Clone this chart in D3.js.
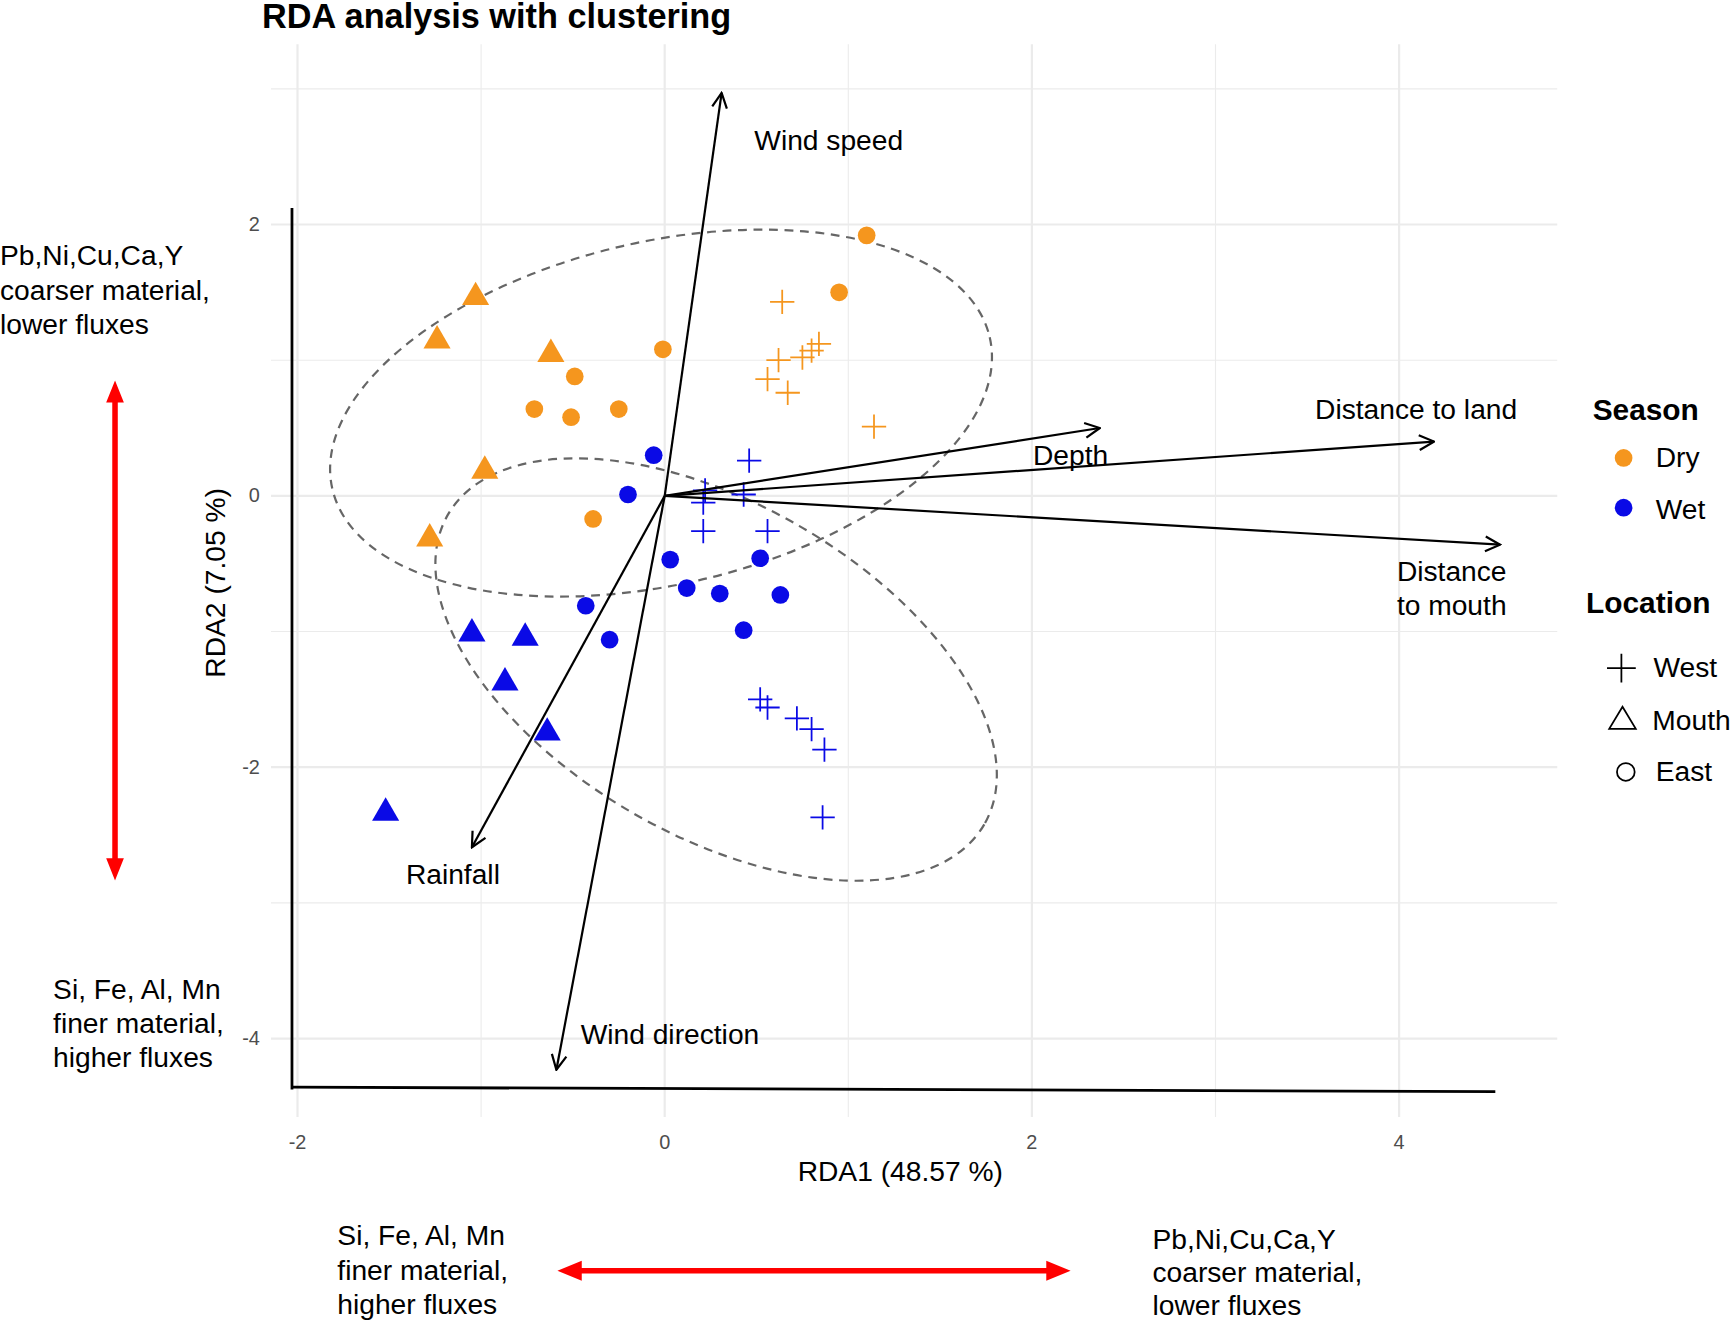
<!DOCTYPE html>
<html>
<head>
<meta charset="UTF-8">
<script src="https://cdn.jsdelivr.net/npm/d3@7"></script>
<style>
body{margin:0;background:#fff}
text{font-family:"Liberation Sans",Arial,sans-serif}
</style>
</head>
<body>
<svg id="cont" width="1734" height="1320"></svg>
<script>
// site scores [RDA1, RDA2]
const dryEast = [[1.10,1.92],[0.95,1.50],[-0.01,1.08],[-0.49,0.88],[-0.71,0.64],[-0.51,0.58],[-0.25,0.64],[-0.39,-0.17]];
const dryMouth = [[-1.03,1.48],[-1.24,1.16],[-0.62,1.06],[-0.98,0.20],[-1.28,-0.30]];
const dryWest = [[0.64,1.43],[0.56,0.86],[0.62,1.00],[0.75,1.02],[0.80,1.07],[0.84,1.12],[0.67,0.76],[1.14,0.51]];
const wetEast = [[-0.06,0.30],[-0.20,0.01],[0.03,-0.47],[0.12,-0.68],[0.30,-0.72],[0.52,-0.46],[0.63,-0.73],[0.43,-0.99],[-0.43,-0.81],[-0.30,-1.06]];
const wetMouth = [[-1.05,-1.00],[-0.76,-1.03],[-0.87,-1.36],[-0.64,-1.73],[-1.52,-2.32]];
const wetWest = [[0.46,0.26],[0.22,0.04],[0.21,-0.05],[0.43,0.01],[0.21,-0.26],[0.56,-0.26],[0.52,-1.50],[0.56,-1.56],[0.72,-1.64],[0.80,-1.72],[0.87,-1.87],[0.86,-2.37]];
// environmental vectors
const vectors = [
  {name:"Wind speed", x:0.31, y:2.97},
  {name:"Depth", x:2.37, y:0.50},
  {name:"Distance to land", x:4.19, y:0.40},
  {name:"Distance to mouth", x:4.55, y:-0.36},
  {name:"Rainfall", x:-1.05, y:-2.59},
  {name:"Wind direction", x:-0.59, y:-4.23}
];
// cluster ellipses: centre, radii (px), rotation
const ellipses = [{cx:-0.02, cy:0.61, rx:305, ry:155, rot:-13},{cx:0.28, cy:-1.28, rx:280, ry:150, rot:30}];
const xTicks = [-2,0,2,4], yTicks = [2,0,-2,-4];
const xMinor = [-1,1,3], yMinor = [3,1,-1,-3];

const orange = "#f5961e", blue = "#0a0ae6";
const svg = d3.select("#cont");
const g = svg.append("g").attr("transform","scale(1.106)");

const x = d3.scaleLinear().domain([-2,4]).range([269,1265]);
const y = d3.scaleLinear().domain([2,-4]).range([203,939]);

// grid
g.selectAll(".gx").data(xMinor.concat(xTicks)).join("line")
  .attr("x1",d=>x(d)).attr("x2",d=>x(d)).attr("y1",40).attr("y2",1010)
  .attr("stroke","#ebebeb").attr("stroke-width",d=>xTicks.includes(d)?2:1);
g.selectAll(".gy").data(yMinor.concat(yTicks)).join("line")
  .attr("y1",d=>y(d)).attr("y2",d=>y(d)).attr("x1",245).attr("x2",1408)
  .attr("stroke","#ebebeb").attr("stroke-width",d=>yTicks.includes(d)?2:1);

// tick labels
g.selectAll(".tx").data(xTicks).join("text").attr("x",d=>x(d)).attr("y",1039)
  .attr("text-anchor","middle").attr("font-size",18).attr("fill","#4d4d4d").text(d=>d);
g.selectAll(".ty").data(yTicks).join("text").attr("x",235).attr("y",d=>y(d)+6)
  .attr("text-anchor","end").attr("font-size",18).attr("fill","#4d4d4d").text(d=>d);

// axis lines
g.append("line").attr("x1",264).attr("x2",264).attr("y1",188).attr("y2",985).attr("stroke","#000").attr("stroke-width",2.5);
g.append("line").attr("x1",264).attr("x2",1352).attr("y1",983).attr("y2",987).attr("stroke","#000").attr("stroke-width",2.5);

// ellipses
g.selectAll(".ell").data(ellipses).join("ellipse")
  .attr("transform",d=>`translate(${x(d.cx)},${y(d.cy)}) rotate(${d.rot})`)
  .attr("rx",d=>d.rx).attr("ry",d=>d.ry)
  .attr("fill","none").attr("stroke","#666").attr("stroke-width",2).attr("stroke-dasharray","8,6");

// points
function circles(data,col){
  g.selectAll(null).data(data).join("circle").attr("cx",d=>x(d[0])).attr("cy",d=>y(d[1]))
    .attr("r",8).attr("fill",col);
}
function triangles(data,col){
  g.selectAll(null).data(data).join("path")
    .attr("d",d3.symbol(d3.symbolTriangle,260))
    .attr("transform",d=>`translate(${x(d[0])},${y(d[1])+2})`).attr("fill",col);
}
function pluses(data,col){
  g.selectAll(null).data(data).join("path")
    .attr("d","M-11,0H11M0,-11V11")
    .attr("transform",d=>`translate(${x(d[0])},${y(d[1])})`).attr("stroke",col).attr("stroke-width",1.6);
}
circles(dryEast,orange); triangles(dryMouth,orange); pluses(dryWest,orange);
circles(wetEast,blue); triangles(wetMouth,blue); pluses(wetWest,blue);

// vectors
svg.append("defs").append("marker").attr("id","ah").attr("viewBox","0 0 12 12")
  .attr("refX",11).attr("refY",6).attr("markerWidth",8).attr("markerHeight",8).attr("orient","auto")
  .append("path").attr("d","M1,1L11,6L1,11").attr("fill","none").attr("stroke","#000").attr("stroke-width",1.5);
g.selectAll(".vec").data(vectors).join("line")
  .attr("x1",x(0)).attr("y1",y(0)).attr("x2",d=>x(d.x)).attr("y2",d=>y(d.y))
  .attr("stroke","#000").attr("stroke-width",2).attr("marker-end","url(#ah)");

function label(lines,px,py,opts={}){
  const t = g.append("text").attr("x",px).attr("y",py).attr("font-size",opts.size||25.5)
    .attr("font-weight",opts.bold?"bold":null).attr("text-anchor",opts.anchor||"start").attr("fill","#000");
  lines.forEach((l,i)=>t.append("tspan").attr("x",px).attr("dy",i?(opts.lh||31):0).text(l));
  return t;
}
label(["Wind speed"],682,136);
label(["Depth"],934,420);
label(["Distance to land"],1189,379);
label(["Distance","to mouth"],1263,525);
label(["Rainfall"],367,799);
label(["Wind direction"],525,944);

// titles
label(["RDA analysis with clustering"],237,25,{bold:true,size:31});
label(["RDA1 (48.57 %)"],814,1068,{anchor:"middle"});
g.append("text").attr("transform","translate(203,527) rotate(-90)").attr("text-anchor","middle")
  .attr("font-size",25.5).text("RDA2 (7.05 %)");

// interpretation notes
label(["Pb,Ni,Cu,Ca,Y","coarser material,","lower fluxes"],0,240);
label(["Si, Fe, Al, Mn","finer material,","higher fluxes"],48,903);
label(["Si, Fe, Al, Mn","finer material,","higher fluxes"],305,1126);
label(["Pb,Ni,Cu,Ca,Y","coarser material,","lower fluxes"],1042,1129,{lh:30});
const red="#ff0000";
g.append("line").attr("x1",104).attr("x2",104).attr("y1",358).attr("y2",782).attr("stroke",red).attr("stroke-width",5);
g.append("path").attr("d","M104,344L96,364L112,364Z M104,796L96,776L112,776Z").attr("fill",red);
g.append("line").attr("x1",518).attr("x2",954).attr("y1",1149).attr("y2",1149).attr("stroke",red).attr("stroke-width",5);
g.append("path").attr("d","M504,1149L526,1140L526,1158Z M968,1149L946,1140L946,1158Z").attr("fill",red);

// legend
label(["Season"],1440,380,{bold:true,size:27});
g.append("circle").attr("cx",1468).attr("cy",414).attr("r",8).attr("fill",orange);
label(["Dry"],1497,422);
g.append("circle").attr("cx",1468).attr("cy",459).attr("r",8).attr("fill",blue);
label(["Wet"],1497,469);
label(["Location"],1434,554,{bold:true,size:27});
g.append("path").attr("d","M1453,604H1479M1466,591V617").attr("stroke","#000").attr("stroke-width",1.6);
label(["West"],1495,612);
g.append("path").attr("d","M1467,639L1479,659L1455,659Z").attr("fill","none").attr("stroke","#000").attr("stroke-width",1.6);
label(["Mouth"],1494,660);
g.append("circle").attr("cx",1470).attr("cy",698).attr("r",8).attr("fill","none").attr("stroke","#000").attr("stroke-width",1.6);
label(["East"],1497,706);
</script>
</body>
</html>
